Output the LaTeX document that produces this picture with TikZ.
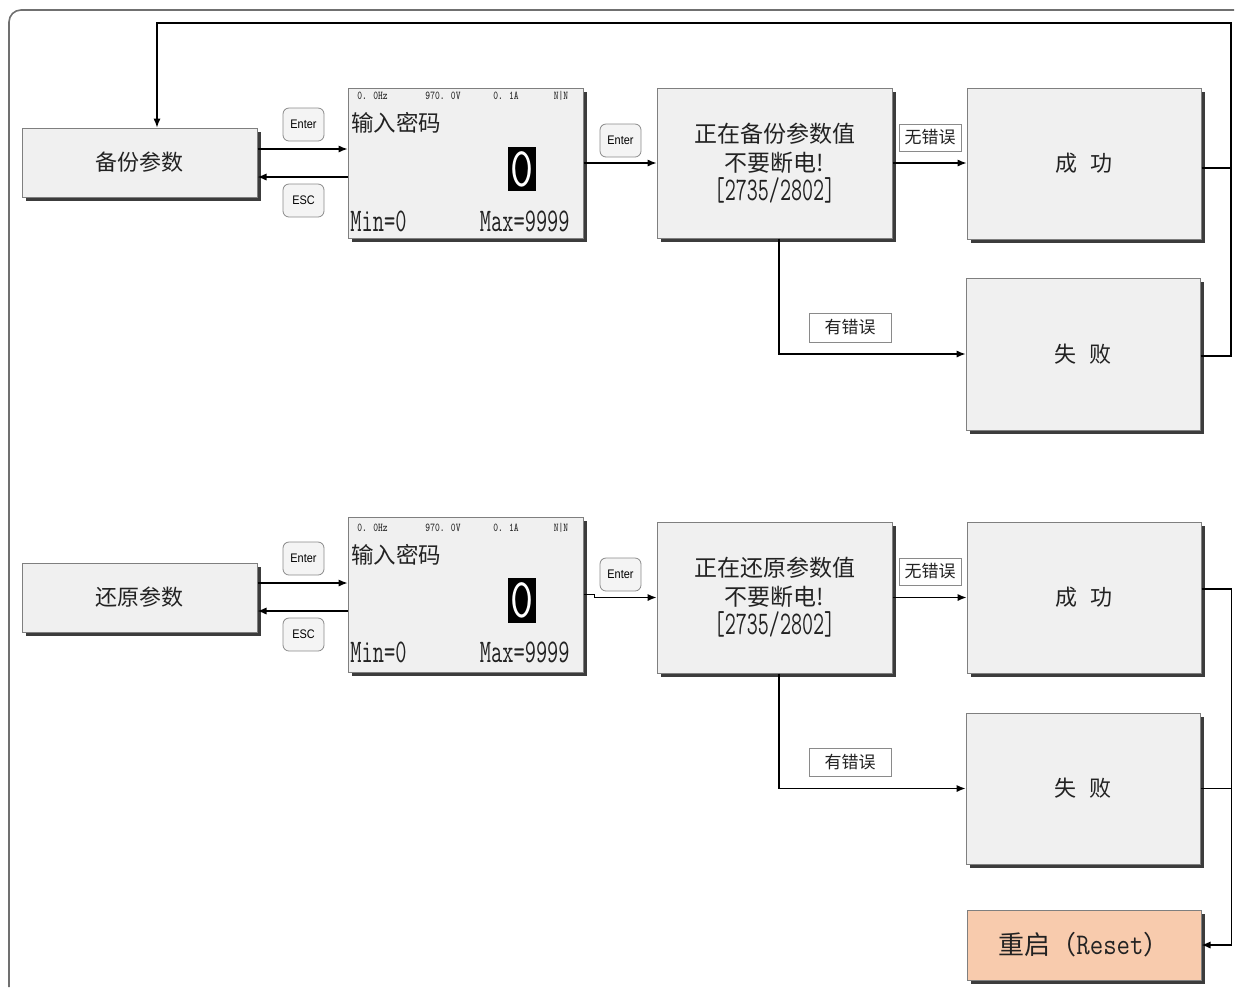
\documentclass[tikz,border=0pt]{standalone}
\usepackage{fontspec}
\newfontfamily\cjk{Noto Sans CJK SC}
\newfontfamily\btnfont{Liberation Sans}
\usetikzlibrary{arrows.meta,shadows,calc}
\definecolor{boxfill}{HTML}{F0F0F0}
\definecolor{boxline}{HTML}{7F7F7F}
\definecolor{shadowc}{HTML}{3C3C3C}
\definecolor{btnfill}{HTML}{F4F4F4}
\definecolor{btnline}{HTML}{8A8A8A}
\definecolor{tagline}{HTML}{8A8A8A}
\definecolor{resetfill}{HTML}{F8CBAD}
\definecolor{framec}{HTML}{707070}
\definecolor{txt}{HTML}{222222}
\def\pxu{0.5pt}
\newcommand\lat[3]{\scalebox{#1}[1]{\fontsize{#2}{#2}\selectfont\ttfamily #3}}
\newcommand\cjkat[1]{\cjk\fontsize{#1}{#1}\selectfont}
\newcommand\btntext[1]{\scalebox{0.88}[1]{#1}}
\begin{document}
\begin{tikzpicture}[x=0.5pt,y=-0.5pt]
\tikzset{
  box/.style={draw=boxline, fill=boxfill, line width=0.5pt, inner sep=0pt, text=txt,
    drop shadow={shadow xshift=1.75pt, shadow yshift=-1.75pt, fill=shadowc, opacity=1}},
  btn/.style={draw=btnline, fill=btnfill, rounded corners=3pt, minimum width=41*\pxu,
    minimum height=33*\pxu, inner sep=0pt, line width=0.4pt, text=black,
    font=\btnfont\fontsize{6.2pt}{7pt}\selectfont},
  tag/.style={draw=tagline, fill=white, inner sep=0pt, line width=0.5pt, text=txt,
    font=\cjkat{8.5pt}},
  arr/.style={-{Latex[length=4.5pt,width=3.6pt]}, line width=0.6pt},
  conn/.style={line width=0.6pt},
  frame/.style={draw=framec, line width=0.8pt},
  lbl/.style={inner sep=0pt, text=txt, font=\cjkat{11pt}},
  lcdsmall/.style={inner sep=0pt, text=txt},
  zero/.style={fill=black, text=white, inner sep=0pt, minimum width=28*\pxu},
}
\useasboundingbox (0,0) rectangle (1235,987);
\draw[frame, rounded corners=6pt] (9,987) -- (9,10) -- (1234,10);

% ---------------- top row ----------------
\node[box, minimum width=235*\pxu, minimum height=69*\pxu, font=\cjkat{11pt}] (b1) at (139.5,162.5) {备份参数};
\node[btn] (en1) at (303.5,124.5) {\btntext{Enter}};
\node[btn] (esc1) at (303.5,200.5) {\btntext{ESC}};
\node[box, minimum width=235*\pxu, minimum height=150*\pxu] (lcd1) at (465.5,163) {};
\node[lcdsmall, anchor=west] (l1a) at (357,96) {\lat{0.75}{6pt}{0. 0Hz}};
\node[lcdsmall] (l1b) at (443,96) {\lat{0.75}{6pt}{970. 0V}};
\node[lcdsmall] (l1c) at (506,96) {\lat{0.75}{6pt}{0. 1A}};
\node[lcdsmall] (l1d) at (561,96) {\lat{0.75}{6pt}{N|N}};
\node[lbl, anchor=west, font=\cjkat{11.25pt}] (l1e) at (351,123) {输入密码};
\node[zero, minimum height=44*\pxu] (l1f) at (522,169) {\lat{0.8}{28pt}{0}};
\node[lcdsmall, anchor=west] (l1g) at (350,221) {\lat{0.66}{16.5pt}{Min=0}};
\node[lcdsmall, anchor=east] (l1h) at (570,221) {\lat{0.66}{16.5pt}{Max=9999}};
\node[btn] (en2) at (620.5,140.5) {\btntext{Enter}};
\node[box, minimum width=235*\pxu, minimum height=150*\pxu, align=center,
  font=\cjk\fontsize{11.5pt}{14.5pt}\selectfont] (p1) at (774.5,163)
  {正在备份参数值\\不要断电!\\\lat{0.65}{16.5pt}{[2735/2802]}};
\node[tag, minimum width=62*\pxu, minimum height=27*\pxu] (ok1) at (930,137.5) {无错误};
\node[box, minimum width=234*\pxu, minimum height=151*\pxu, font=\cjkat{11pt}] (s1) at (1084,163.5) {成\hspace{0.55em}功};
\node[box, minimum width=234*\pxu, minimum height=152*\pxu, font=\cjkat{11pt}] (f1) at (1083,354) {失\hspace{0.55em}败};
\node[tag, minimum width=82*\pxu, minimum height=29*\pxu] (er1) at (850,327.5) {有错误};

\draw[arr] ([yshift=6.75pt]b1.east) -- ([yshift=7pt]lcd1.west);
\draw[arr] ([yshift=-7pt]lcd1.west) -- ([yshift=-7.25pt]b1.east);
\draw[arr] (lcd1.east) -- (p1.west);
\draw[arr] (p1.east) -- (p1.east -| s1.west);
\draw[arr] ([xshift=2.25pt]p1.south) |- (f1.west);
\draw[conn] ([yshift=-2.25pt]s1.east) -- ++(30,0);
\draw[arr] ([yshift=-1pt]f1.east) -| (1231,23) -| ([xshift=8.75pt]b1.north);

% ---------------- bottom row ----------------
\node[box, minimum width=235*\pxu, minimum height=69*\pxu, font=\cjkat{11pt}] (b2) at (139.5,597.5) {还原参数};
\node[btn] (en3) at (303.5,558.5) {\btntext{Enter}};
\node[btn] (esc2) at (303.5,634.5) {\btntext{ESC}};
\node[box, minimum width=235*\pxu, minimum height=155*\pxu] (lcd2) at (465.5,594.5) {};
\node[lcdsmall, anchor=west] (l2a) at (357,528) {\lat{0.75}{6pt}{0. 0Hz}};
\node[lcdsmall] (l2b) at (443,528) {\lat{0.75}{6pt}{970. 0V}};
\node[lcdsmall] (l2c) at (506,528) {\lat{0.75}{6pt}{0. 1A}};
\node[lcdsmall] (l2d) at (561,528) {\lat{0.75}{6pt}{N|N}};
\node[lbl, anchor=west, font=\cjkat{11.25pt}] (l2e) at (351,555) {输入密码};
\node[zero, minimum height=45*\pxu] (l2f) at (522,600.5) {\lat{0.8}{28pt}{0}};
\node[lcdsmall, anchor=west] (l2g) at (350,652) {\lat{0.66}{16.5pt}{Min=0}};
\node[lcdsmall, anchor=east] (l2h) at (570,652) {\lat{0.66}{16.5pt}{Max=9999}};
\node[btn] (en4) at (620.5,574.5) {\btntext{Enter}};
\node[box, minimum width=235*\pxu, minimum height=151*\pxu, align=center,
  font=\cjk\fontsize{11.5pt}{14.5pt}\selectfont] (p2) at (774.5,597.5)
  {正在还原参数值\\不要断电!\\\lat{0.65}{16.5pt}{[2735/2802]}};
\node[tag, minimum width=62*\pxu, minimum height=27*\pxu] (ok2) at (930,571.5) {无错误};
\node[box, minimum width=234*\pxu, minimum height=151*\pxu, font=\cjkat{11pt}] (s2) at (1084,597.5) {成\hspace{0.55em}功};
\node[box, minimum width=234*\pxu, minimum height=151*\pxu, font=\cjkat{11pt}] (f2) at (1083,788.5) {失\hspace{0.55em}败};
\node[tag, minimum width=82*\pxu, minimum height=28*\pxu] (er2) at (850,762) {有错误};
\node[box, fill=resetfill, minimum width=234*\pxu, minimum height=70*\pxu, font=\cjkat{13pt}] (rs) at (1084,945)
  {重启（\lat{0.87}{15pt}{Reset}）};

\draw[arr] ([yshift=7.25pt]b2.east) -- ([yshift=5.75pt]lcd2.west);
\draw[arr] ([yshift=-8.25pt]lcd2.west) -- ([yshift=-6.75pt]b2.east);
\draw[arr] (lcd2.east) -- ++(11,0) |- (p2.west);
\draw[arr] (p2.east) -- (s2.west);
\draw[arr] ([xshift=2.25pt]p2.south) |- (f2.west);
\draw[conn] (f2.east) -- ++(31,0);
\draw[arr] ([yshift=4.25pt]s2.east) -| ([xshift=15pt]rs.east) -- (rs.east);
\end{tikzpicture}
\end{document}
